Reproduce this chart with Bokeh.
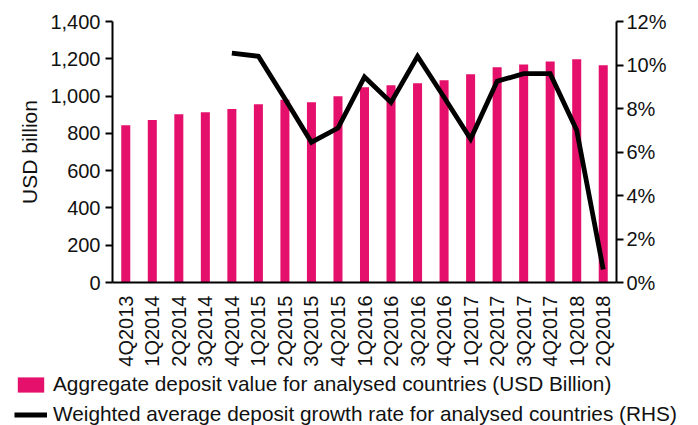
from bokeh.plotting import figure
from bokeh.layouts import column, row
from bokeh.models import (ColumnDataSource, FactorRange, Range1d, LinearAxis,
                          NumeralTickFormatter, PrintfTickFormatter,
                          SingleIntervalTicker, Legend, LegendItem)
from bokeh.embed import file_html
from bokeh.resources import INLINE
import math

quarters = ["4Q2013", "1Q2014", "2Q2014", "3Q2014", "4Q2014", "1Q2015", "2Q2015",
            "3Q2015", "4Q2015", "1Q2016", "2Q2016", "3Q2016", "4Q2016", "1Q2017",
            "2Q2017", "3Q2017", "4Q2017", "1Q2018", "2Q2018"]
deposits = [844, 871, 903, 913, 930, 956, 980, 967, 999, 1047, 1058, 1069, 1085,
            1117, 1154, 1170, 1185, 1197, 1165]
growth_quarters = quarters[4:]
growth = [10.55, 10.4, 8.45, 6.45, 7.1, 9.45, 8.28, 10.4, 8.52, 6.6, 9.25, 9.6,
          9.6, 7.0, 0.6]

bar_label = "Aggregate deposit value for analysed countries (USD Billion)"
line_label = "Weighted average deposit growth rate for analysed countries (RHS)"

PINK = "#E5106B"
FONT = "Liberation Sans"
TXT = "#111111"

bar_src = ColumnDataSource(dict(x=quarters, top=deposits))
line_src = ColumnDataSource(dict(x=growth_quarters, y=growth))

p = figure(x_range=FactorRange(factors=quarters, range_padding=0),
           y_range=Range1d(0, 1400),
           width=698, height=369, output_backend="svg", toolbar_location=None,
           min_border_left=112, min_border_right=82, min_border_top=21,
           min_border_bottom=86)
p.outline_line_color = None
p.xgrid.grid_line_color = None
p.ygrid.grid_line_color = None
p.background_fill_color = "white"
p.border_fill_color = "white"

p.vbar(x="x", top="top", source=bar_src, width=0.34, color=PINK, line_color=None)

p.extra_y_ranges = {"rhs": Range1d(0, 12)}
p.line(x="x", y="y", source=line_src, y_range_name="rhs", line_color="black",
       line_width=4.8, line_join="miter")

ya = p.yaxis[0]
ya.ticker = SingleIntervalTicker(interval=200)
ya.formatter = NumeralTickFormatter(format="0,0")
ya.axis_label = "USD billion"

ra = LinearAxis(y_range_name="rhs", ticker=SingleIntervalTicker(interval=2),
                formatter=PrintfTickFormatter(format="%d%%"))
p.add_layout(ra, "right")

for ax in [ya, ra]:
    ax.axis_line_width = 2
    ax.axis_line_color = "black"
    ax.major_tick_line_width = 2
    ax.major_tick_line_color = "black"
    ax.major_tick_out = 7
    ax.major_tick_in = 0
    ax.minor_tick_line_color = None
    ax.major_label_text_font = FONT
    ax.major_label_text_font_size = "20px"
    ax.major_label_text_color = TXT
ya.major_label_standoff = 5
ra.major_label_standoff = 3
ya.axis_label_text_font = FONT
ya.axis_label_text_font_size = "21px"
ya.axis_label_text_font_style = "normal"
ya.axis_label_text_color = TXT
ya.axis_label_standoff = 6

xa = p.xaxis[0]
xa.axis_line_width = 2
xa.axis_line_color = "black"
xa.major_tick_line_color = None
xa.minor_tick_line_color = None
xa.major_label_orientation = math.pi / 2
xa.major_label_text_font = FONT
xa.major_label_text_font_size = "20px"
xa.major_label_text_color = TXT
xa.major_label_standoff = 7

# legend strip below the chart: same data, drawn out of its visible range,
# so only the legend swatches show
lf = figure(width=698, height=56,
            x_range=FactorRange(factors=quarters, range_padding=0),
            y_range=Range1d(5000, 6000),
            output_backend="svg", toolbar_location=None,
            x_axis_type=None, y_axis_type=None, min_border=0,
            min_border_left=0, min_border_right=0, min_border_top=0,
            min_border_bottom=0)
lf.outline_line_color = None
lf.xgrid.grid_line_color = None
lf.ygrid.grid_line_color = None
lbar = lf.vbar(x="x", top="top", source=bar_src, width=0.34, color=PINK,
               line_color=None)
lline = lf.line(x="x", y="y", source=line_src, line_color="black",
                line_width=4.8)

legend = Legend(items=[LegendItem(label=bar_label, renderers=[lbar]),
                       LegendItem(label=line_label, renderers=[lline])],
                location=(14, -1), orientation="vertical",
                glyph_width=33, glyph_height=19, label_height=20,
                label_standoff=6, spacing=6, padding=0, margin=0,
                border_line_color=None, background_fill_alpha=0,
                label_text_font=FONT, label_text_font_size="20.8px",
                label_text_color=TXT)
lf.add_layout(legend, "center")

open("out.html", "w").write(file_html(column(p, row(lf), spacing=0), INLINE))
